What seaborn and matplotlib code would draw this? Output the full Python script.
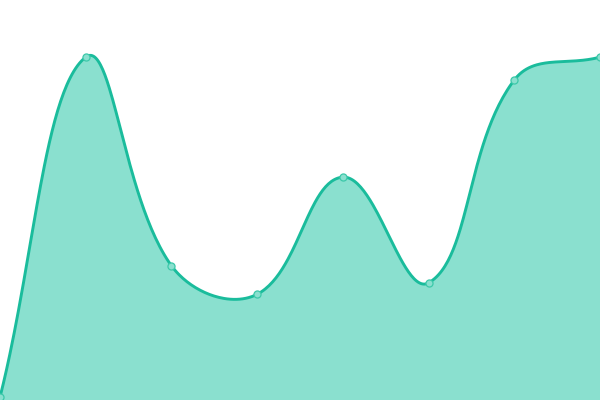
import numpy as np
import pandas as pd
import seaborn as sns
import matplotlib
matplotlib.use('Agg')
import matplotlib.pyplot as plt

# Data (8 points, y axis 0..140)
labels = ['p1', 'p2', 'p3', 'p4', 'p5', 'p6', 'p7', 'p8']
values = [1, 120, 47, 37, 78, 41, 112, 120]
y_max = 140

line_color = '#1abc9c'
fill_color = '#8ae0cf'
tension = 0.4

sns.set_theme(style='white')

fig = plt.figure(figsize=(6, 4), dpi=100)
ax = fig.add_axes([0, 0, 1, 1])
ax.set_xlim(0, len(values) - 1)
ax.set_ylim(0, y_max)
ax.set_axis_off()

df = pd.DataFrame({'label': labels, 'x': np.arange(len(values)), 'y': values})

# Smooth curve like a tension-0.4 spline, computed in pixel space
pts = ax.transData.transform(np.column_stack([df['x'], df['y']]).astype(float))
n = len(pts)
cp_prev = pts.copy()
cp_next = pts.copy()
for i in range(n):
    prev = pts[max(i - 1, 0)]
    cur = pts[i]
    nxt = pts[min(i + 1, n - 1)]
    d01 = np.hypot(*(cur - prev))
    d12 = np.hypot(*(nxt - cur))
    tot = d01 + d12
    s01 = d01 / tot if tot else 0
    s12 = d12 / tot if tot else 0
    cp_prev[i] = cur - tension * s01 * (nxt - prev)
    cp_next[i] = cur + tension * s12 * (nxt - prev)

# keep control points inside the plot area
x0, y0 = ax.transData.transform((0, 0))
x1, y1 = ax.transData.transform((n - 1, y_max))
cp_prev[:, 0] = np.clip(cp_prev[:, 0], x0, x1)
cp_next[:, 0] = np.clip(cp_next[:, 0], x0, x1)
cp_prev[:, 1] = np.clip(cp_prev[:, 1], y0, y1)
cp_next[:, 1] = np.clip(cp_next[:, 1], y0, y1)

t = np.linspace(0, 1, 60)[:, None]
curve = []
for i in range(n - 1):
    p0, p1, p2, p3 = pts[i], cp_next[i], cp_prev[i + 1], pts[i + 1]
    seg = ((1 - t) ** 3) * p0 + 3 * t * (1 - t) ** 2 * p1 + 3 * t ** 2 * (1 - t) * p2 + t ** 3 * p3
    curve.append(seg if i == 0 else seg[1:])
curve = ax.transData.inverted().transform(np.vstack(curve))
cx, cy = curve[:, 0], curve[:, 1]

ax.fill_between(cx, 0, cy, color=fill_color, linewidth=0, zorder=1)
sns.lineplot(x=cx, y=cy, sort=False, estimator=None, color=line_color,
             linewidth=2.1, ax=ax, zorder=2)
sns.scatterplot(data=df, x='x', y='y', s=26, color=fill_color,
                edgecolor='#3cc8a9', linewidth=0.9, ax=ax, zorder=3)

ax.set_xlim(0, n - 1)
ax.set_ylim(0, y_max)
ax.set_axis_off()

plt.savefig('out.png', dpi=100)
plt.close()
